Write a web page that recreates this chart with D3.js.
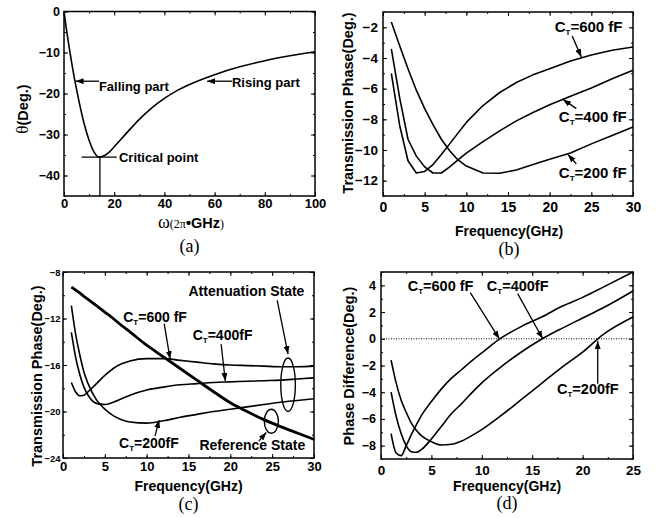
<!DOCTYPE html>
<html>
<head>
<meta charset="utf-8">
<script src="https://d3js.org/d3.v7.min.js"></script>
<style>
  body { margin: 0; background: #fff; }
  text { font-family: Arial, "Liberation Sans", sans-serif; font-weight: bold; fill: #000; }
  .serif { font-family: "Times New Roman", "Liberation Serif", serif; font-weight: normal; }
</style>
</head>
<body>
<svg id="chart" width="656" height="518"></svg>
<script>
// ---- panel (a): theta vs omega
var aOmega = [0, 1, 2, 3, 4, 5, 6, 8, 10, 12, 14, 16, 18, 20, 25, 30, 35, 40, 45, 50, 60, 70, 80, 90, 100];
var aTheta = [0, -4.5, -8.5, -12.3, -15.8, -19, -22, -27.3, -31.4, -34.3, -35.5, -35.2, -34.3, -33, -29.6, -26.3, -23.5, -21.2, -19.3, -17.8, -15.4, -13.5, -12, -10.8, -9.8];
var aXTicks = [0, 20, 40, 60, 80, 100];
var aYTicks = [0, -10, -20, -30, -40];

// ---- panel (b): transmission phase, attenuation state
var bFreq = [1, 2, 3, 4, 5, 6, 7, 8, 9, 10, 12, 14, 16, 18, 20, 22.5, 25, 27.5, 30];
var b600 = [-5.0, -8.4, -10.7, -11.5, -11.4, -10.95, -10.3, -9.6, -8.9, -8.2, -7.1, -6.25, -5.6, -5.1, -4.7, -4.2, -3.8, -3.5, -3.28];
var b400 = [-3.4, -6.6, -9.3, -10.4, -11.1, -11.5, -11.5, -11.1, -10.65, -10.2, -9.45, -8.75, -8.1, -7.55, -7.05, -6.5, -5.95, -5.35, -4.8];
var b200 = [-1.65, -3.2, -4.7, -6.1, -7.3, -8.35, -9.3, -10.05, -10.65, -11.05, -11.5, -11.52, -11.3, -10.95, -10.6, -10.2, -9.6, -9.05, -8.5];
var bXTicks = [0, 5, 10, 15, 20, 25, 30];
var bYTicks = [-2, -4, -6, -8, -10, -12];

// ---- panel (c): reference vs attenuation states
var cFreq = [1, 1.5, 2, 2.5, 3, 4, 5, 6, 7, 8, 10, 12, 14, 16, 18, 20, 22, 24, 26, 28, 30];
var cRef = [-9.3, -9.55, -9.8, -10.1, -10.35, -10.9, -11.45, -12.0, -12.6, -13.15, -14.3, -15.3, -16.3, -17.3, -18.3, -19.25, -20.0, -20.7, -21.3, -21.85, -22.4];
var c600 = [-17.5, -18.3, -18.65, -18.6, -18.3, -17.6, -16.9, -16.3, -15.9, -15.65, -15.45, -15.45, -15.6, -15.75, -15.9, -16.0, -16.05, -16.1, -16.15, -16.15, -16.1];
var c400 = [-13.2, -15.3, -16.8, -17.9, -18.6, -19.3, -19.4, -19.2, -18.9, -18.6, -18.15, -17.9, -17.7, -17.6, -17.5, -17.45, -17.4, -17.35, -17.3, -17.2, -17.1];
var c200 = [-10.9, -13.3, -15.1, -16.6, -17.6, -19.0, -19.8, -20.35, -20.7, -20.9, -21.0, -20.8, -20.5, -20.25, -20.0, -19.8, -19.6, -19.4, -19.2, -19.05, -18.9];
var cXTicks = [0, 5, 10, 15, 20, 25, 30];
var cYTicks = [-8, -12, -16, -20, -24];

// ---- panel (d): phase difference
var dFreq = [1, 1.5, 2, 2.5, 3, 3.5, 4, 5, 6, 7, 8, 9, 10, 12, 14, 16, 18, 20, 22, 25];
var d600 = [-7.1, -8.55, -8.75, -8.0, -7.2, -6.45, -5.75, -4.7, -3.75, -2.95, -2.3, -1.65, -1.05, 0.1, 0.95, 1.65, 2.45, 3.1, 3.85, 5.0];
var d400 = [-4.0, -5.8, -7.1, -8.0, -8.45, -8.5, -8.3, -7.5, -6.55, -5.6, -4.85, -4.05, -3.3, -2.05, -0.95, 0.0, 0.8, 1.55, 2.3, 3.58];
var d200 = [-1.6, -3.3, -4.6, -5.5, -6.3, -6.85, -7.25, -7.7, -7.95, -7.9, -7.65, -7.25, -6.8, -5.7, -4.5, -3.3, -2.1, -1.0, 0.3, 1.63];
var dXTicks = [0, 5, 10, 15, 20, 25];
var dYTicks = [4, 2, 0, -2, -4, -6, -8];

var svg = d3.select("#chart");

svg.append("defs").append("marker")
    .attr("id", "arr")
    .attr("markerUnits", "userSpaceOnUse")
    .attr("markerWidth", 8).attr("markerHeight", 6)
    .attr("refX", 8).attr("refY", 3)
    .attr("orient", "auto")
  .append("path")
    .attr("d", "M0,0L8,3L0,6Z")
    .attr("fill", "#000");

function zip(xs, ys) {
    return xs.map(function (d, i) { return [d, ys[i]]; });
}

function panel(p) {
    var x = d3.scaleLinear().domain(p.xDomain).range([p.left, p.right]);
    var y = d3.scaleLinear().domain(p.yDomain).range([p.bottom, p.top]);
    var g = svg.append("g");

    function ticks(axis, tx, ty, labelled, size) {
        var a = g.append("g")
            .attr("transform", "translate(" + tx + "," + ty + ")")
            .call(axis);
        a.select(".domain").remove();
        a.selectAll("line").attr("stroke", "#000").attr("stroke-width", 1);
        a.attr("font-family", null).attr("font-size", null);
        a.selectAll("text").style("font-size", size + "px");
        if (!labelled) a.selectAll("text").remove();
    }

    var xMinor = d3.range(p.xDomain[0], p.xDomain[1] + 1e-9, p.xMinor);
    var yMinor = d3.range(p.yDomain[0], p.yDomain[1] + 1e-9, p.yMinor);

    ticks(d3.axisBottom(x).tickValues(p.xTicks).tickSize(-4).tickPadding(p.xPad), 0, p.bottom, true, p.xFont);
    ticks(d3.axisBottom(x).tickValues(xMinor).tickSize(-2).tickFormat(""), 0, p.bottom, false);
    ticks(d3.axisTop(x).tickValues(p.xTicks).tickSize(-4), 0, p.top, false);
    ticks(d3.axisTop(x).tickValues(xMinor).tickSize(-2), 0, p.top, false);
    ticks(d3.axisLeft(y).tickValues(p.yTicks).tickSize(-4).tickPadding(p.yPad), p.left, 0, true, p.yFont);
    ticks(d3.axisLeft(y).tickValues(yMinor).tickSize(-2).tickFormat(""), p.left, 0, false);
    ticks(d3.axisRight(y).tickValues(p.yTicks).tickSize(-4), p.right, 0, false);
    ticks(d3.axisRight(y).tickValues(yMinor).tickSize(-2), p.right, 0, false);

    g.append("rect")
        .attr("x", p.left).attr("y", p.top)
        .attr("width", p.right - p.left).attr("height", p.bottom - p.top)
        .attr("fill", "none").attr("stroke", "#000").attr("stroke-width", 1.5);

    var line = d3.line()
        .x(function (d) { return x(d[0]); })
        .y(function (d) { return y(d[1]); })
        .curve(p.curve || d3.curveMonotoneX);

    p.series.forEach(function (s) {
        g.append("path")
            .datum(zip(p.xs, s.v))
            .attr("d", line)
            .attr("fill", "none")
            .attr("stroke", "#000")
            .attr("stroke-width", s.w || 1.6)
            .attr("stroke-linejoin", "round");
    });

    (p.arrows || []).forEach(function (a) {
        g.append("line")
            .attr("x1", x(a[0])).attr("y1", y(a[1]))
            .attr("x2", x(a[2])).attr("y2", y(a[3]))
            .attr("stroke", "#000").attr("stroke-width", 1.3)
            .attr("marker-end", "url(#arr)");
    });

    (p.notes || []).forEach(function (n) {
        var t = g.append("text")
            .attr("x", x(n.x)).attr("y", y(n.y))
            .style("font-size", p.noteFont + "px");
        if (n.ct) {
            t.append("tspan").text("C");
            t.append("tspan").text("T").style("font-size", "8px").attr("dy", 3);
            t.append("tspan").text("=" + n.ct).attr("dy", -3);
        } else {
            t.text(n.t);
        }
    });

    if (p.xTitle) {
        g.append("text")
            .attr("x", (p.left + p.right) / 2 + (p.xTitleDx || 0)).attr("y", p.xTitleY)
            .attr("text-anchor", "middle")
            .style("font-size", "14px")
            .text(p.xTitle);
    }
    if (p.yTitle) {
        g.append("text")
            .attr("transform", "translate(" + p.yTitleX + "," + p.yTitleCy + ") rotate(-90)")
            .attr("text-anchor", "middle")
            .style("font-size", "14.5px")
            .text(p.yTitle);
    }
    g.append("text")
        .attr("class", "serif")
        .attr("x", (p.left + p.right) / 2 + (p.letterDx || 0)).attr("y", p.letterY)
        .attr("text-anchor", "middle")
        .style("font-size", "18px")
        .text(p.letter);

    return { g: g, x: x, y: y };
}

// (a)
var pa = panel({
    left: 64, right: 315, top: 11.5, bottom: 196,
    xDomain: [0, 100], yDomain: [-45, 0],
    xTicks: aXTicks, yTicks: aYTicks, xMinor: 10, yMinor: 5,
    xPad: 3, yPad: 4, xFont: 13, yFont: 12.5,
    xs: aOmega, series: [{ v: aTheta }],
    arrows: [[14, -17, 4.6, -17], [67, -17, 57, -17]],
    notes: [{ t: "Falling part", x: 13.9, y: -19.4 }, { t: "Rising part", x: 66.9, y: -18.5 },
            { t: "Critical point", x: 21.9, y: -36.8 }],
    noteFont: 13,
    letter: "(a)", letterY: 252, letterDx: 0
});
pa.g.append("line")
    .attr("x1", pa.x(7)).attr("x2", pa.x(21))
    .attr("y1", pa.y(-35.5)).attr("y2", pa.y(-35.5))
    .attr("stroke", "#000").attr("stroke-width", 1.3);
pa.g.append("line")
    .attr("x1", pa.x(14.3)).attr("x2", pa.x(14.3))
    .attr("y1", pa.y(-35.5)).attr("y2", pa.y(-45))
    .attr("stroke", "#000").attr("stroke-width", 1.3);
var axl = pa.g.append("text").attr("x", 191).attr("y", 228).attr("text-anchor", "middle");
axl.append("tspan").attr("class", "serif").style("font-size", "18px").text("ω");
axl.append("tspan").attr("class", "serif").style("font-size", "12px").text("(2π");
axl.append("tspan").style("font-size", "14.5px").text("•GHz");
axl.append("tspan").attr("class", "serif").style("font-size", "12px").text(")");
var ayl = pa.g.append("text").attr("transform", "translate(28,109) rotate(-90)").attr("text-anchor", "middle");
ayl.append("tspan").attr("class", "serif").style("font-size", "17px").text("θ");
ayl.append("tspan").style("font-size", "14.5px").text("(Deg.)");

// (b)
panel({
    left: 383, right: 633, top: 12, bottom: 196,
    xDomain: [0, 30], yDomain: [-13, -1],
    xTicks: bXTicks, yTicks: bYTicks, xMinor: 2.5, yMinor: 1,
    xPad: 6, yPad: 5, xFont: 14, yFont: 13.5,
    xs: bFreq, curve: d3.curveLinear,
    series: [{ v: b600 }, { v: b400 }, { v: b200 }],
    arrows: [[22.7, -2.57, 23.8, -3.93], [23.2, -7.3, 21.6, -6.7], [23.2, -10.9, 22.2, -10.3]],
    notes: [{ ct: "600 fF", x: 20.6, y: -2.3 }, { ct: "400 fF", x: 21.1, y: -8.17 }, { ct: "200 fF", x: 21.1, y: -11.8 }],
    noteFont: 15,
    xTitle: "Frequency(GHz)", xTitleY: 236, xTitleDx: 1,
    yTitle: "Transmission Phase(Deg.)", yTitleX: 353, yTitleCy: 103,
    letter: "(b)", letterY: 255, letterDx: 1
});

// (c)
var pc = panel({
    left: 63, right: 314, top: 272, bottom: 458,
    xDomain: [0, 30], yDomain: [-24, -8],
    xTicks: cXTicks, yTicks: cYTicks, xMinor: 2.5, yMinor: 2,
    xPad: 4, yPad: 2.5, xFont: 13, yFont: 9.5,
    xs: cFreq,
    series: [{ v: cRef, w: 2.8 }, { v: c600 }, { v: c400 }, { v: c200 }],
    arrows: [[25.6, -10.45, 26.9, -15.06], [12.1, -12.47, 12.8, -15.5], [18.9, -14.2, 19.4, -17.37],
             [11, -22.1, 11.5, -20.74], [23.4, -22.55, 24.3, -21.8]],
    notes: [{ t: "Attenuation State", x: 15, y: -10.07 }, { ct: "600 fF", x: 7.2, y: -12.3 },
            { ct: "400fF", x: 15.5, y: -13.85 }, { ct: "200fF", x: 6.7, y: -23.1 },
            { t: "Reference State", x: 16.3, y: -23.27 }],
    noteFont: 14,
    xTitle: "Frequency(GHz)", xTitleY: 491, xTitleDx: 0,
    yTitle: "Transmission Phase(Deg.)", yTitleX: 42, yTitleCy: 376,
    letter: "(c)", letterY: 510, letterDx: 0
});
var cEllipses = [{ f: 26.9, v: -17.7, rf: 0.87, rv: 2.3 }, { f: 24.9, v: -20.84, rf: 0.84, rv: 1.03 }];
cEllipses.forEach(function (e) {
    pc.g.append("ellipse")
        .attr("cx", pc.x(e.f)).attr("cy", pc.y(e.v))
        .attr("rx", pc.x(e.rf) - pc.x(0)).attr("ry", pc.y(-24) - pc.y(-24 + e.rv))
        .attr("fill", "none").attr("stroke", "#000").attr("stroke-width", 1.4);
});

// (d)
var pd = panel({
    left: 381, right: 633, top: 272, bottom: 459,
    xDomain: [0, 25], yDomain: [-9, 5],
    xTicks: dXTicks, yTicks: dYTicks, xMinor: 2.5, yMinor: 1,
    xPad: 6, yPad: 5, xFont: 13.5, yFont: 12.5,
    xs: dFreq,
    series: [{ v: d600 }, { v: d400 }, { v: d200 }],
    arrows: [[8.86, 3.45, 11.74, 0.0], [13.56, 3.38, 16.04, 0.0], [21.5, -3.36, 21.5, -0.17]],
    notes: [{ ct: "600 fF", x: 2.65, y: 3.55 }, { ct: "400fF", x: 10.5, y: 3.55 }, { ct: "200fF", x: 17.46, y: -4.1 }],
    noteFont: 14.5,
    xTitle: "Frequency(GHz)", xTitleY: 491, xTitleDx: 0,
    yTitle: "Phase Difference(Deg.)", yTitleX: 354, yTitleCy: 366,
    letter: "(d)", letterY: 509, letterDx: 0
});
pd.g.append("line")
    .attr("x1", pd.x(0)).attr("x2", pd.x(25))
    .attr("y1", pd.y(0)).attr("y2", pd.y(0))
    .attr("stroke", "#000").attr("stroke-width", 1)
    .attr("stroke-dasharray", "1,1.5");
</script>
</body>
</html>
